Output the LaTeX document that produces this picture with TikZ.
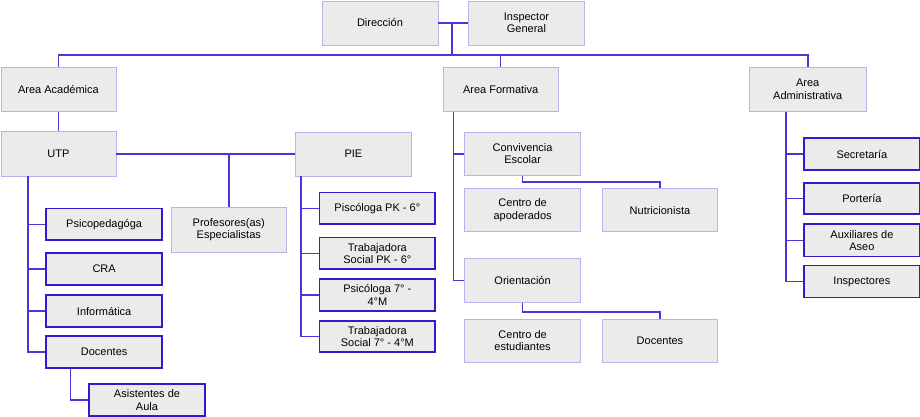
\documentclass[tikz,border=0pt]{standalone}
\usepackage{fontspec}
\setmainfont{Liberation Sans}
\usetikzlibrary{calc}
\definecolor{wirec}{RGB}{78,52,212}
\definecolor{darkb}{RGB}{48,28,204}
\definecolor{liteb}{RGB}{186,178,236}
\definecolor{boxfill}{RGB}{235,235,235}
\begin{document}
\begin{tikzpicture}[x=1pt,y=-1pt,
  box/.style={draw=liteb, line width=0.9pt, fill=boxfill, inner sep=0pt, align=center,
    font=\fontsize{11}{12.5}\selectfont, anchor=north west},
  leaf/.style={box, draw=darkb, line width=1.7pt},
  wire/.style={draw=wirec, line width=1.6pt}]
\useasboundingbox (0,0) rectangle (920,416);
% top
\node[box, minimum width=116pt, minimum height=44pt] (dir) at (321.5,0.5) {Dirección};
\node[box, minimum width=116pt, minimum height=44pt] (insp) at (468,0.5) {Inspector\\General};
% areas
\node[box, minimum width=115pt, minimum height=44pt] (acad) at (0.5,66.7) {Area Académica};
\node[box, minimum width=115pt, minimum height=44pt] (form) at (442.7,66.7) {Area Formativa};
\node[box, minimum width=116.5pt, minimum height=44pt] (admin) at (749,66.7) {Area\\Administrativa};
% academic
\node[box, minimum width=115pt, minimum height=44.5pt] (utp) at (0.5,131) {UTP};
\node[box, minimum width=116pt, minimum height=44pt] (pie) at (295,131.5) {PIE};
\node[box, minimum width=115.3pt, minimum height=44.5pt] (prof) at (170.7,207) {Profesores(as)\\Especialistas};
\node[leaf, minimum width=116pt, minimum height=31.6pt] (psico) at (45.3,207.7) {Psicopedagóga};
\node[leaf, minimum width=116pt, minimum height=31.7pt] (cra) at (45.3,252.3) {CRA};
\node[leaf, minimum width=116pt, minimum height=32pt] (inf) at (45.3,294.3) {Informática};
\node[leaf, minimum width=116pt, minimum height=32pt] (doc) at (45.3,335) {Docentes};
\node[leaf, minimum width=115.7pt, minimum height=31.5pt] (asis) at (88.3,383.3) {Asistentes de\\Aula};
\node[leaf, minimum width=115.6pt, minimum height=31.6pt] (pk6) at (318.7,191.7) {Piscóloga PK - 6°};
\node[leaf, minimum width=115.6pt, minimum height=31.6pt] (tpk6) at (318.7,236.7) {Trabajadora\\Social PK - 6°};
\node[leaf, minimum width=115.6pt, minimum height=31.7pt] (p7) at (318.7,278.3) {Psicóloga 7° -\\4°M};
\node[leaf, minimum width=115.6pt, minimum height=31pt] (t7) at (318.7,320) {Trabajadora\\Social 7° - 4°M};
% formativa
\node[box, minimum width=115.7pt, minimum height=43.3pt] (conv) at (464.3,131.7) {Convivencia\\Escolar};
\node[box, minimum width=115.7pt, minimum height=42.7pt] (capo) at (464.3,188.3) {Centro de\\apoderados};
\node[box, minimum width=115.6pt, minimum height=42.7pt] (nutr) at (601.7,188.3) {Nutricionista};
\node[box, minimum width=115.7pt, minimum height=43.4pt] (orie) at (464.3,258.3) {Orientación};
\node[box, minimum width=115.7pt, minimum height=42.7pt] (cest) at (464.3,319) {Centro de\\estudiantes};
\node[box, minimum width=115.6pt, minimum height=42.7pt] (doc2) at (601.7,319) {Docentes};
% administrativa
\node[leaf, minimum width=115.5pt, minimum height=31.7pt] (secr) at (803.3,137.3) {Secretaría};
\node[leaf, minimum width=115.5pt, minimum height=31pt] (port) at (803.3,182.3) {Portería};
\node[leaf, minimum width=115.5pt, minimum height=32.4pt] (aux) at (803.3,223.3) {Auxiliares de\\Aseo};
\node[leaf, minimum width=115.5pt, minimum height=32pt] (insps) at (803.3,264.7) {Inspectores};
% connectors top
\coordinate (bus) at (451,55);
\coordinate (topj) at ($(dir.east)!0.45!(insp.west)$);
\draw[wire] (dir.east) -- (insp.west);
\draw[wire] (topj) -- (topj |- bus);
\draw[wire] (acad.north) |- (admin.north |- bus) -- (admin.north);
\draw[wire] (form.north) -- (form.north |- bus);
% academic
\draw[wire] (acad.south) -- (utp.north);
\draw[wire] (utp.east) -- (pie.west |- utp.east);
\draw[wire] (prof.north) -- (prof.north |- utp.east);
\coordinate (ur) at ($(utp.south west)+(27.2,0)$);
\draw[wire] (ur) |- (doc.west);
\draw[wire] (ur |- psico.west) -- (psico.west);
\draw[wire] (ur |- cra.west) -- (cra.west);
\draw[wire] (ur |- inf.west) -- (inf.west);
\coordinate (dr) at ($(doc.south west)+(25,0)$);
\draw[wire] (dr) |- (asis.west);
\coordinate (pr) at ($(pie.south west)+(6,0)$);
\draw[wire] (pr) |- (t7.west);
\draw[wire] (pr |- pk6.west) -- (pk6.west);
\draw[wire] (pr |- tpk6.west) -- (tpk6.west);
\draw[wire] (pr |- p7.west) -- (p7.west);
% formativa
\coordinate (fr) at ($(form.south west)+(10.6,0)$);
\draw[wire] (fr) |- (orie.west);
\draw[wire] (fr |- conv.west) -- (conv.west);
\draw[wire] (conv.south) -- ++(0,6) -| (nutr.north);
\draw[wire] (orie.south) -- ++(0,9.3) -| (doc2.north);
% administrativa
\coordinate (ar) at ($(admin.south west)+(36.7,0)$);
\draw[wire] (ar) |- (insps.west);
\draw[wire] (ar |- secr.west) -- (secr.west);
\draw[wire] (ar |- port.west) -- (port.west);
\draw[wire] (ar |- aux.west) -- (aux.west);
\end{tikzpicture}
\end{document}
